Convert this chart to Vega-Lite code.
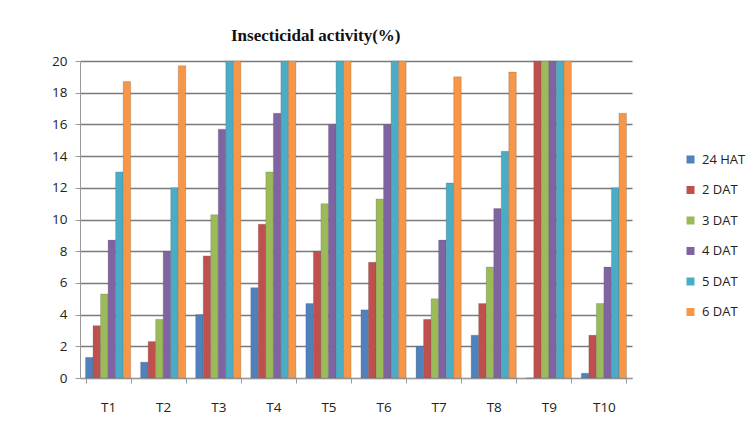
{
  "$schema": "https://vega.github.io/schema/vega-lite/v6.json",
  "width": 552,
  "height": 317,
  "autosize": "none",
  "padding": {"left": 80, "top": 61, "right": 123, "bottom": 43},
  "background": "white",
  "title": {
    "text": "Insecticidal activity(%)",
    "font": "Liberation Serif",
    "fontSize": 17,
    "fontWeight": "bold",
    "color": "#111",
    "anchor": "start",
    "frame": "group",
    "dx": 151,
    "offset": 9
  },
  "data": {
    "values": [
      {"t": "T1", "s": "24 HAT", "v": 1.3}, {"t": "T1", "s": "2 DAT", "v": 3.3}, {"t": "T1", "s": "3 DAT", "v": 5.3}, {"t": "T1", "s": "4 DAT", "v": 8.7}, {"t": "T1", "s": "5 DAT", "v": 13}, {"t": "T1", "s": "6 DAT", "v": 18.7},
      {"t": "T2", "s": "24 HAT", "v": 1.0}, {"t": "T2", "s": "2 DAT", "v": 2.3}, {"t": "T2", "s": "3 DAT", "v": 3.7}, {"t": "T2", "s": "4 DAT", "v": 8.0}, {"t": "T2", "s": "5 DAT", "v": 12}, {"t": "T2", "s": "6 DAT", "v": 19.7},
      {"t": "T3", "s": "24 HAT", "v": 4.0}, {"t": "T3", "s": "2 DAT", "v": 7.7}, {"t": "T3", "s": "3 DAT", "v": 10.3}, {"t": "T3", "s": "4 DAT", "v": 15.7}, {"t": "T3", "s": "5 DAT", "v": 20}, {"t": "T3", "s": "6 DAT", "v": 20},
      {"t": "T4", "s": "24 HAT", "v": 5.7}, {"t": "T4", "s": "2 DAT", "v": 9.7}, {"t": "T4", "s": "3 DAT", "v": 13}, {"t": "T4", "s": "4 DAT", "v": 16.7}, {"t": "T4", "s": "5 DAT", "v": 20}, {"t": "T4", "s": "6 DAT", "v": 20},
      {"t": "T5", "s": "24 HAT", "v": 4.7}, {"t": "T5", "s": "2 DAT", "v": 8.0}, {"t": "T5", "s": "3 DAT", "v": 11}, {"t": "T5", "s": "4 DAT", "v": 16}, {"t": "T5", "s": "5 DAT", "v": 20}, {"t": "T5", "s": "6 DAT", "v": 20},
      {"t": "T6", "s": "24 HAT", "v": 4.3}, {"t": "T6", "s": "2 DAT", "v": 7.3}, {"t": "T6", "s": "3 DAT", "v": 11.3}, {"t": "T6", "s": "4 DAT", "v": 16}, {"t": "T6", "s": "5 DAT", "v": 20}, {"t": "T6", "s": "6 DAT", "v": 20},
      {"t": "T7", "s": "24 HAT", "v": 2.0}, {"t": "T7", "s": "2 DAT", "v": 3.7}, {"t": "T7", "s": "3 DAT", "v": 5.0}, {"t": "T7", "s": "4 DAT", "v": 8.7}, {"t": "T7", "s": "5 DAT", "v": 12.3}, {"t": "T7", "s": "6 DAT", "v": 19},
      {"t": "T8", "s": "24 HAT", "v": 2.7}, {"t": "T8", "s": "2 DAT", "v": 4.7}, {"t": "T8", "s": "3 DAT", "v": 7.0}, {"t": "T8", "s": "4 DAT", "v": 10.7}, {"t": "T8", "s": "5 DAT", "v": 14.3}, {"t": "T8", "s": "6 DAT", "v": 19.3},
      {"t": "T9", "s": "24 HAT", "v": 0}, {"t": "T9", "s": "2 DAT", "v": 20}, {"t": "T9", "s": "3 DAT", "v": 20}, {"t": "T9", "s": "4 DAT", "v": 20}, {"t": "T9", "s": "5 DAT", "v": 20}, {"t": "T9", "s": "6 DAT", "v": 20},
      {"t": "T10", "s": "24 HAT", "v": 0.3}, {"t": "T10", "s": "2 DAT", "v": 2.7}, {"t": "T10", "s": "3 DAT", "v": 4.7}, {"t": "T10", "s": "4 DAT", "v": 7.0}, {"t": "T10", "s": "5 DAT", "v": 12}, {"t": "T10", "s": "6 DAT", "v": 16.7}
    ]
  },
  "mark": {"type": "bar", "stroke": "#555", "strokeWidth": 0.4, "strokeOpacity": 0.6},
  "encoding": {
    "x": {
      "field": "t", "type": "nominal", "sort": null,
      "scale": {"paddingInner": 0.18, "paddingOuter": 0.1},
      "axis": {
        "title": null, "labelAngle": 0, "labelFont": "Open Sans", "labelFontSize": 13.5,
        "labelColor": "#222", "labelPadding": 17, "domainColor": "#999", "tickColor": "#999",
        "tickBand": "extent", "ticks": true, "tickSize": 5
      }
    },
    "xOffset": {"field": "s", "type": "nominal", "sort": null},
    "y": {
      "field": "v", "type": "quantitative",
      "scale": {"domain": [0, 20], "nice": false},
      "axis": {
        "title": null, "values": [0, 2, 4, 6, 8, 10, 12, 14, 16, 18, 20],
        "labelFont": "Open Sans", "labelFontSize": 13.5, "labelColor": "#222", "labelPadding": 8,
        "domainColor": "#999", "tickColor": "#999", "tickSize": 5,
        "gridColor": "#7a7a7a", "gridWidth": 1.3
      }
    },
    "color": {
      "field": "s", "type": "nominal", "sort": null,
      "scale": {
        "domain": ["24 HAT", "2 DAT", "3 DAT", "4 DAT", "5 DAT", "6 DAT"],
        "range": ["#4F81BD", "#C0504D", "#9BBB59", "#8064A2", "#4BACC6", "#F79646"]
      },
      "legend": {
        "title": null, "orient": "none", "legendX": 604, "legendY": 92,
        "symbolType": "square", "symbolSize": 64, "symbolStrokeWidth": 0,
        "labelFont": "Open Sans", "labelFontSize": 13, "labelColor": "#222",
        "rowPadding": 16.5, "labelOffset": 5
      }
    }
  },
  "config": {
    "view": {"stroke": null}
  }
}
